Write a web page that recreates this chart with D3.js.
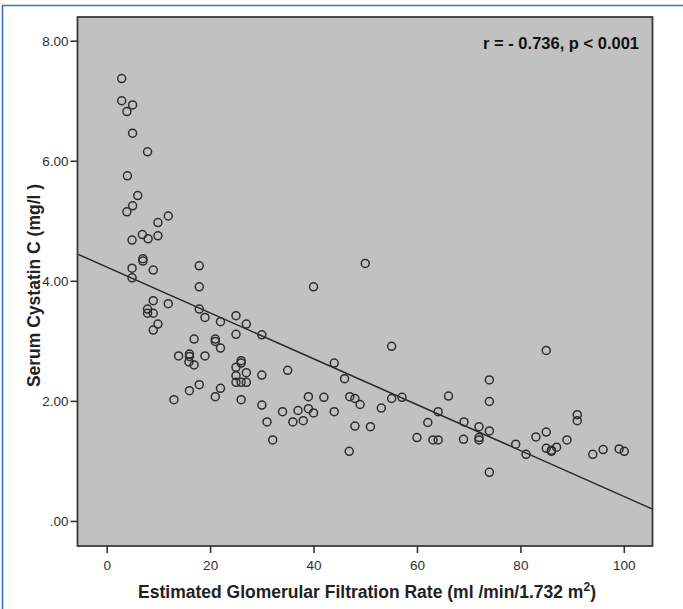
<!DOCTYPE html>
<html>
<head>
<meta charset="utf-8">
<script src="https://cdn.jsdelivr.net/npm/d3@7"></script>
<style>
  html, body { margin: 0; padding: 0; background: #fff; }
  svg { display: block; }
  text { font-family: "Liberation Sans", Arial, sans-serif; }
</style>
</head>
<body>
<svg id="chart" width="683" height="609"></svg>
<script>
// eGFR (ml/min/1.732 m2) for each patient
const gfr = [
  2.9, 2.9, 5.0, 3.9, 5.0, 7.9, 4.0, 6.0, 5.0, 3.9, 11.9, 9.9, 6.9, 8.0, 9.9, 4.9,
  7.0, 7.0, 4.9, 9.0, 4.9, 17.9, 17.9, 9.0, 11.9, 7.9, 7.9, 9.0, 17.9, 19.0, 9.9, 9.0,
  22.0, 25.0, 27.0, 25.0, 30.0, 16.9, 21.0, 21.0, 22.0, 13.9, 16.0, 16.0, 19.0, 15.9, 16.9,
  26.0, 26.0, 25.0, 27.0, 25.0, 26.0, 27.0, 25.0, 30.0, 17.9, 22.0, 16.0, 21.0, 13.0, 26.0,
  30.0, 31.0, 32.1, 50.0, 40.0, 55.1, 35.0, 44.0, 46.0, 39.0, 42.0, 47.0, 48.0, 49.0, 53.1,
  55.1, 57.1, 66.1, 34.0, 37.0, 39.0, 40.0, 44.0, 36.0, 38.0, 48.0, 51.0, 62.1, 64.1, 69.1,
  46.9, 60.0, 63.1, 64.1, 69.0, 85.0, 74.0, 74.0, 72.0, 74.0, 72.0, 72.0, 79.1, 81.1, 83.0,
  85.0, 91.0, 91.0, 89.0, 85.0, 86.0, 86.0, 87.0, 94.0, 96.0, 99.1, 100.1, 74.0
];

// Serum cystatin C (mg/l), same order as gfr
const cystatinC = [
  7.37, 7.00, 6.93, 6.82, 6.46, 6.15, 5.75, 5.42, 5.25, 5.15, 5.08, 4.97, 4.77, 4.70, 4.75, 4.68,
  4.37, 4.33, 4.21, 4.18, 4.05, 4.25, 3.90, 3.67, 3.62, 3.53, 3.46, 3.46, 3.53, 3.39, 3.28, 3.18,
  3.32, 3.42, 3.28, 3.11, 3.10, 3.03, 3.03, 2.99, 2.88, 2.75, 2.78, 2.74, 2.75, 2.65, 2.60,
  2.67, 2.63, 2.56, 2.47, 2.42, 2.31, 2.31, 2.31, 2.43, 2.27, 2.21, 2.17, 2.07, 2.02, 2.02,
  1.93, 1.65, 1.35, 4.29, 3.90, 2.91, 2.51, 2.63, 2.37, 2.07, 2.06, 2.07, 2.04, 1.94, 1.88,
  2.04, 2.06, 2.08, 1.82, 1.84, 1.87, 1.80, 1.82, 1.65, 1.67, 1.58, 1.57, 1.64, 1.82, 1.65,
  1.16, 1.39, 1.35, 1.35, 1.36, 2.84, 2.35, 1.99, 1.57, 1.50, 1.39, 1.35, 1.28, 1.11, 1.40,
  1.48, 1.77, 1.67, 1.35, 1.21, 1.18, 1.16, 1.23, 1.11, 1.19, 1.20, 1.16, 0.81
];

// Linear fit line and its statistics
const fitIntercept = 4.23;
const fitSlope = -0.0382;
const statsLabel = "r = - 0.736, p < 0.001";

const xTicks = [0, 20, 40, 60, 80, 100];
const yTicks = [0, 2, 4, 6, 8];

const xTitle = "Estimated Glomerular Filtration Rate (ml /min/1.732 m";
const yTitle = "Serum Cystatin C (mg/l )";

const svg = d3.select("#chart");

// plot frame in pixels
const frame = { left: 77.5, right: 652.5, top: 17, bottom: 546 };

const x = d3.scaleLinear().domain([-5.65, 105.55]).range([frame.left, frame.right]);
const y = d3.scaleLinear().domain([-0.417, 8.395]).range([frame.bottom, frame.top]);

// outer blue border (top and left edges)
svg.append("path")
  .attr("d", "M683,5.5 H2.5 V609")
  .attr("fill", "none")
  .attr("stroke", "#3f6fc6")
  .attr("stroke-width", 1.6);

// plot background
svg.append("rect")
  .attr("x", frame.left).attr("y", frame.top)
  .attr("width", frame.right - frame.left)
  .attr("height", frame.bottom - frame.top)
  .attr("fill", "#c1c1c1");

const plot = svg.append("g");

// fitted line across the full x range
const xd = x.domain();
plot.append("line")
  .attr("x1", x(xd[0])).attr("y1", y(fitIntercept + fitSlope * xd[0]))
  .attr("x2", x(xd[1])).attr("y2", y(fitIntercept + fitSlope * xd[1]))
  .attr("stroke", "#2a2a2a")
  .attr("stroke-width", 1.5);

// patients
plot.selectAll("circle")
  .data(gfr.map((g, i) => [g, cystatinC[i]]))
  .join("circle")
  .attr("cx", d => x(d[0]))
  .attr("cy", d => y(d[1]))
  .attr("r", 4)
  .attr("fill", "none")
  .attr("stroke", "#2e2e2e")
  .attr("stroke-width", 1.5);

// frame border
svg.append("rect")
  .attr("x", frame.left).attr("y", frame.top)
  .attr("width", frame.right - frame.left)
  .attr("height", frame.bottom - frame.top)
  .attr("fill", "none")
  .attr("stroke", "#3a3a3a")
  .attr("stroke-width", 1.8);

// axes
const yFmt = v => v === 0 ? ".00" : d3.format(".2f")(v);

const yAxis = svg.append("g")
  .attr("transform", `translate(${frame.left},0)`)
  .call(d3.axisLeft(y).tickValues(yTicks).tickFormat(yFmt).tickSize(7).tickSizeOuter(0).tickPadding(2));
yAxis.select(".domain").remove();

const xAxis = svg.append("g")
  .attr("transform", `translate(0,${frame.bottom})`)
  .call(d3.axisBottom(x).tickValues(xTicks).tickFormat(d3.format("d")).tickSize(7).tickSizeOuter(0).tickPadding(7));
xAxis.select(".domain").remove();

[xAxis, yAxis].forEach(a => {
  a.selectAll(".tick line").attr("stroke", "#333").attr("stroke-width", 1.6);
  a.selectAll(".tick text")
    .attr("fill", "#2f2f2f")
    .style("font-size", "13.5px")
    .style("font-family", "'Liberation Sans', Arial, sans-serif");
});

// statistics annotation
svg.append("text")
  .attr("x", 639).attr("y", 49)
  .attr("text-anchor", "end")
  .attr("fill", "#111")
  .style("font-size", "16.5px")
  .style("font-weight", "bold")
  .text(statsLabel);

// axis titles
const xt = svg.append("text")
  .attr("x", (frame.left + frame.right) / 2 + 2)
  .attr("y", 598)
  .attr("text-anchor", "middle")
  .attr("fill", "#222")
  .style("font-size", "17.5px")
  .style("font-weight", "bold");
xt.append("tspan").text(xTitle);
xt.append("tspan").attr("dy", -7).style("font-size", "12px").text("2");
xt.append("tspan").attr("dy", 7).text(")");

svg.append("text")
  .attr("transform", `translate(40,${(frame.top + frame.bottom) / 2 + 4}) rotate(-90)`)
  .attr("text-anchor", "middle")
  .attr("fill", "#222")
  .style("font-size", "17.5px")
  .style("font-weight", "bold")
  .text(yTitle);
</script>
</body>
</html>
